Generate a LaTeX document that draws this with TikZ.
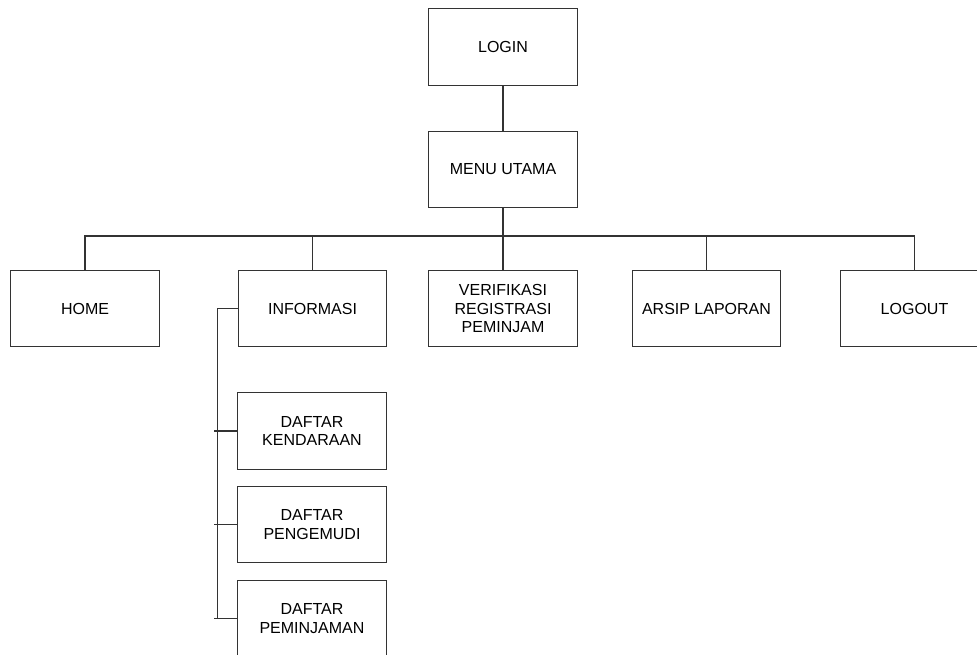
\documentclass[tikz,border=0pt]{standalone}
\usepackage{fontspec}
\setmainfont{Liberation Sans}
\begin{document}
\begin{tikzpicture}[x=0.75pt,y=-0.75pt,
  menubox/.style={draw=black!80, line width=0.9pt, fill=white,
    minimum width=111.5pt, minimum height=57.5pt, inner sep=2pt,
    align=center, font=\fontsize{12}{13.9}\selectfont},
  link/.style={draw=black!80, line width=0.9pt}]
\useasboundingbox (0,0) rectangle (977,654);

% top level
\node[menubox] (login) at (503,47) {LOGIN};
\node[menubox] (menu)  at (503,169.5) {MENU UTAMA};

% menu items
\node[menubox] (home)   at (85,308.5)    {HOME};
\node[menubox] (info)   at (312.5,308.5) {INFORMASI};
\node[menubox] (verif)  at (503,308.5)   {VERIFIKASI\\REGISTRASI\\PEMINJAM};
\node[menubox] (arsip)  at (706.5,308.5) {ARSIP LAPORAN};
\node[menubox] (logout) at (914.5,308.5) {LOGOUT};

% sub items of INFORMASI
\node[menubox] (kend) at (312,431)   {DAFTAR\\KENDARAAN};
\node[menubox] (peng) at (312,524.5) {DAFTAR\\PENGEMUDI};
\node[menubox] (pinj) at (312,618.5) {DAFTAR\\PEMINJAMAN};

% connectors
\coordinate (bus) at (503,236);
\draw[link] (login) -- (menu);
\draw[link] (menu.south) -- (bus);
\draw[link] (home.north) |- (bus) -| (logout.north);
\draw[link] (info.north) -- (info.north |- bus);
\draw[link] (verif.north) -- (verif.north |- bus);
\draw[link] (arsip.north) -- (arsip.north |- bus);

% bracket from INFORMASI to its sub items
\coordinate (spine) at (217.5,308.5);
\coordinate (tick) at (213.5,0);
\draw[link] (info.west) -- (spine) -- (spine |- pinj.west);
\draw[link] (kend.west) -- (kend.west -| tick);
\draw[link] (peng.west) -- (peng.west -| tick);
\draw[link] (pinj.west) -- (pinj.west -| tick);
\end{tikzpicture}
\end{document}
